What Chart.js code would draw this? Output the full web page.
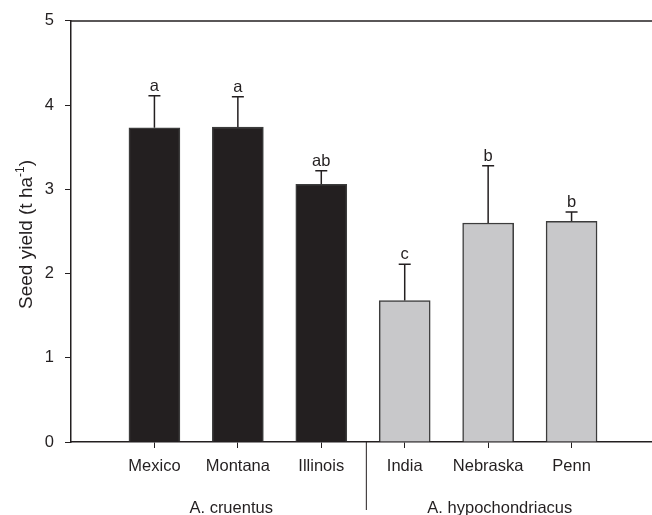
<!DOCTYPE html>
<html>
<head>
<meta charset="utf-8">
<script src="https://cdn.jsdelivr.net/npm/chart.js@4/dist/chart.umd.min.js"></script>
<style>
  html, body { margin: 0; padding: 0; background: #fff; overflow: hidden; }
  #wrap { width: 655px; height: 515px; }
</style>
</head>
<body>
<div id="wrap"><canvas id="c" width="655" height="515"></canvas></div>
<script>
// Seed yield by accession, grouped by species
const categories = ['Mexico', 'Montana', 'Illinois', 'India', 'Nebraska', 'Penn'];
const yieldMean = [3.73, 3.74, 3.06, 1.68, 2.60, 2.62];
const yieldErrTop = [4.11, 4.10, 3.22, 2.11, 3.28, 2.73];
const letters = ['a', 'a', 'ab', 'c', 'b', 'b'];
const species = ['A. cruentus', 'A. cruentus', 'A. cruentus', 'A. hypochondriacus', 'A. hypochondriacus', 'A. hypochondriacus'];
const speciesLabels = ['A. cruentus', 'A. hypochondriacus'];
const yTicks = [0, 1, 2, 3, 4, 5];

const INK = '#231f20';
const FONT = '"Liberation Sans", Arial, sans-serif';

const barFill = species.map(s => s === 'A. cruentus' ? '#231f20' : '#c8c8ca');

// error bars, significance letters, frame, species labels and y title
const decorations = {
  id: 'decorations',
  afterDatasetsDraw(chart) {
    const ctx = chart.ctx;
    const xs = chart.scales.x, ys = chart.scales.y;
    const area = chart.chartArea;
    ctx.save();
    ctx.strokeStyle = INK;
    ctx.fillStyle = INK;
    ctx.lineWidth = 1.5;
    // error bars (upper only)
    categories.forEach((c, i) => {
      const x = xs.getPixelForValue(i + 1);
      const y0 = ys.getPixelForValue(yieldMean[i]);
      const y1 = ys.getPixelForValue(yieldErrTop[i]);
      ctx.beginPath();
      ctx.moveTo(x, y0);
      ctx.lineTo(x, y1);
      ctx.moveTo(x - 6, y1);
      ctx.lineTo(x + 6, y1);
      ctx.stroke();
      ctx.font = '16.5px ' + FONT;
      ctx.textAlign = 'center';
      ctx.textBaseline = 'alphabetic';
      ctx.fillText(letters[i], x, y1 - 5);
    });
    // top frame line
    ctx.beginPath();
    ctx.moveTo(area.left, area.top);
    ctx.lineTo(area.right, area.top);
    ctx.stroke();
    // species divider below the x axis
    const dx = xs.getPixelForValue(3.54);
    ctx.lineWidth = 1;
    ctx.beginPath();
    ctx.moveTo(dx, area.bottom);
    ctx.lineTo(dx, area.bottom + 68);
    ctx.stroke();
    // species labels
    ctx.font = '16.5px ' + FONT;
    ctx.textAlign = 'center';
    ctx.textBaseline = 'middle';
    ctx.fillText(speciesLabels[0], xs.getPixelForValue(1.92), area.bottom + 66);
    ctx.fillText(speciesLabels[1], xs.getPixelForValue(5.14), area.bottom + 66);
    // y axis title with superscript
    const main = 'Seed yield (t ha';
    const sup = '-1';
    const close = ')';
    ctx.font = '19px ' + FONT;
    const w1 = ctx.measureText(main).width;
    const w3 = ctx.measureText(close).width;
    ctx.font = '12px ' + FONT;
    const w2 = ctx.measureText(sup).width;
    const total = w1 + w2 + w3;
    const cy = (area.top + area.bottom) / 2 + 3;
    ctx.translate(31.5, cy);
    ctx.rotate(-Math.PI / 2);
    ctx.textAlign = 'left';
    ctx.textBaseline = 'alphabetic';
    let px = -total / 2;
    ctx.font = '19px ' + FONT;
    ctx.fillText(main, px, 0);
    px += w1;
    ctx.font = '12px ' + FONT;
    ctx.fillText(sup, px, -8);
    px += w2;
    ctx.font = '19px ' + FONT;
    ctx.fillText(close, px, 0);
    ctx.restore();
  }
};

new Chart(document.getElementById('c'), {
  type: 'bar',
  data: {
    datasets: [{
      data: categories.map((c, i) => ({ x: i + 1, y: yieldMean[i] })),
      backgroundColor: barFill,
      borderColor: '#3c3c3c',
      borderWidth: 1.5,
      borderSkipped: 'bottom',
      barThickness: 51
    }]
  },
  options: {
    responsive: false,
    animation: false,
    layout: { padding: { top: 20, left: 0, right: 0, bottom: 0 } },
    plugins: { legend: { display: false }, tooltip: { enabled: false } },
    scales: {
      x: {
        type: 'linear',
        offset: false,
        min: 0,
        max: 7,
        afterBuildTicks: axis => { axis.ticks = categories.map((c, i) => ({ value: i + 1 })); },
        afterFit: scale => { scale.height = 73; },
        ticks: {
          autoSkip: false,
          maxRotation: 0,
          padding: 9,
          color: INK,
          font: { family: FONT, size: 16.5 },
          callback: v => categories[v - 1] || ''
        },
        grid: { offset: false, drawOnChartArea: false, drawTicks: true, tickLength: 6, tickColor: INK, tickWidth: 1 },
        border: { display: true, color: INK, width: 1.5 }
      },
      y: {
        min: 0,
        max: 5,
        afterBuildTicks: axis => { axis.ticks = yTicks.map(v => ({ value: v })); },
        afterFit: scale => { scale.width = 71; },
        ticks: {
          padding: 11,
          color: INK,
          font: { family: FONT, size: 16.5 }
        },
        grid: { drawOnChartArea: false, drawTicks: true, tickLength: 6, tickColor: INK, tickWidth: 1 },
        border: { display: true, color: INK, width: 1.5 }
      }
    }
  },
  plugins: [decorations]
});
</script>
</body>
</html>
